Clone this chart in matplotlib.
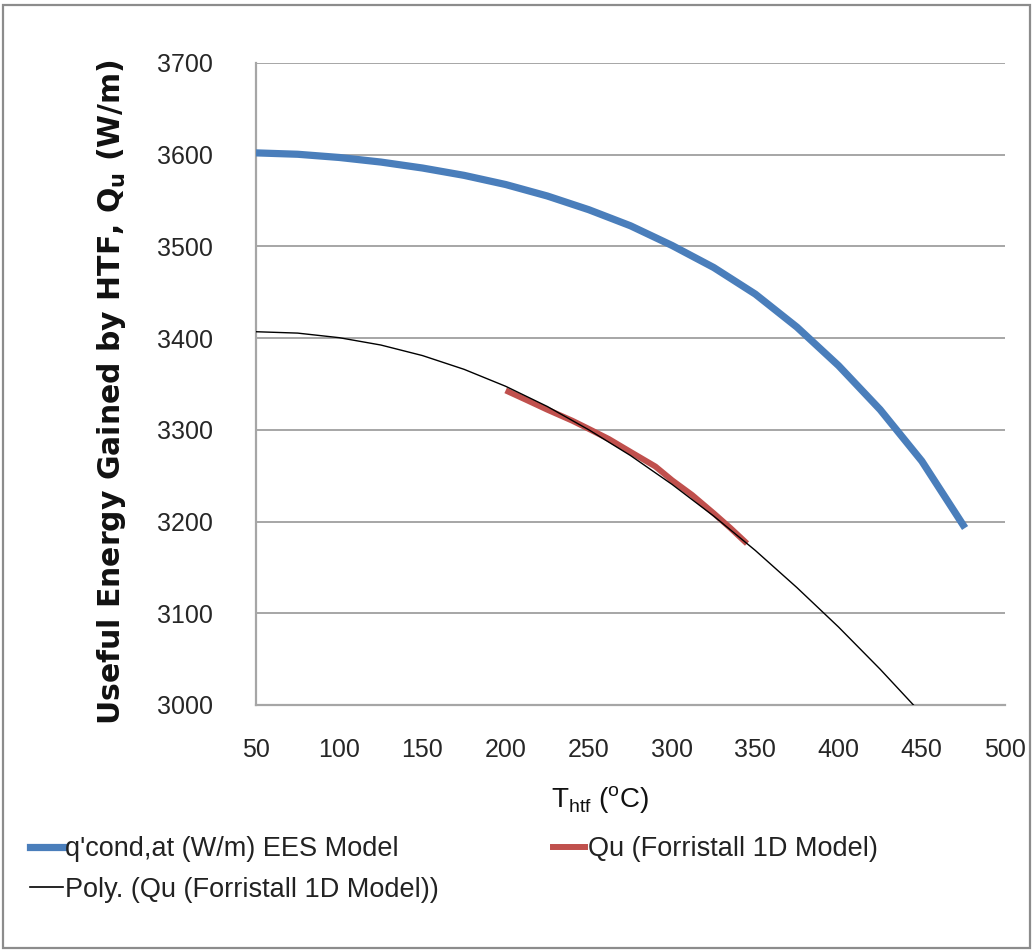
import matplotlib
matplotlib.use("Agg")
import matplotlib.pyplot as plt
from matplotlib.patches import Rectangle
from matplotlib.lines import Line2D

# ---- data ----
blue_x = [50, 75, 100, 125, 150, 175, 200, 225, 250, 275, 300, 325, 350, 375, 400, 425, 450, 476]
blue_y = [3602, 3600.5, 3597, 3592, 3585.5, 3577.5, 3567.5, 3555, 3540, 3522.5, 3501, 3477,
          3448, 3412, 3370, 3322, 3266, 3193]

red_x = [200, 212, 225, 240, 250, 262, 275, 290, 300, 312, 325, 335, 345]
red_y = [3343, 3333, 3322, 3310, 3301, 3290, 3276, 3260, 3245, 3229, 3209, 3193, 3176]

poly_x = [50, 75, 100, 125, 150, 175, 200, 225, 250, 275, 300, 325, 350, 375, 400, 425, 445]
poly_y = [3407, 3405.5, 3400.5, 3392.5, 3381, 3366, 3347.5, 3325.5, 3300, 3272, 3240.5, 3206,
          3168.5, 3128, 3085, 3039, 3000]

x_ticks = [50, 100, 150, 200, 250, 300, 350, 400, 450, 500]
y_ticks = [3000, 3100, 3200, 3300, 3400, 3500, 3600, 3700]

label_blue = "q'cond,at (W/m) EES Model"
label_red = "Qu (Forristall 1D Model)"
label_poly = "Poly. (Qu (Forristall 1D Model))"

plt.rcParams["font.family"] = ["Liberation Sans", "DejaVu Sans"]
plt.rcParams["mathtext.fontset"] = "custom"
plt.rcParams["mathtext.rm"] = "Liberation Sans"

W, H = 1034, 951
fig = plt.figure(figsize=(W / 100, H / 100), dpi=100)
fig.patch.set_facecolor("white")

# outer chart border
fig.patches.append(Rectangle((3 / W, 3 / H), 1 - 7 / W, 1 - 8 / H, transform=fig.transFigure,
                             fill=False, edgecolor="#8c8c8c", linewidth=1.6))

L, R, T, B = 256, 1005, 63, 705
ax = fig.add_axes([L / W, 1 - B / H, (R - L) / W, (B - T) / H])

grid_c = "#a6a6a6"
for yv in y_ticks:
    ax.axhline(yv, color=grid_c, lw=1.4, zorder=1)

ax.plot(blue_x, blue_y, color="#4a7ebb", lw=5.2, solid_capstyle="butt",
        solid_joinstyle="round", zorder=3)
ax.plot(red_x, red_y, color="#c0504d", lw=4.3, solid_capstyle="butt",
        solid_joinstyle="round", zorder=4)
ax.plot(poly_x, poly_y, color="black", lw=1.0, zorder=5)

ax.set_xlim(50, 500)
ax.set_ylim(3000, 3700)
ax.set_xticks(x_ticks)
ax.set_yticks(y_ticks)
ax.tick_params(length=0, labelsize=18, colors="#262626")
ax.tick_params(axis="x", pad=24)
ax.tick_params(axis="y", pad=31)
for s in ["top", "right"]:
    ax.spines[s].set_visible(False)
for s in ["left", "bottom"]:
    ax.spines[s].set_color(grid_c)
    ax.spines[s].set_linewidth(1.6)

fig.text(112 / W, 1 - 392 / H, r"Useful Energy Gained by HTF, Q$_\mathregular{u}$ (W/m)",
         rotation=90, ha="center", va="center", fontsize=21.5, fontweight="bold",
         family=["DejaVu Sans"], color="#111111")

fig.text(600 / W, 1 - 800 / H, r"T$_\mathregular{htf}$ ($^\mathregular{o}$C)",
         ha="center", va="center", fontsize=20, color="#111111")

handles = [Line2D([], [], color="#4a7ebb", lw=5.2),
           Line2D([], [], color="black", lw=1.2),
           Line2D([], [], color="#c0504d", lw=4.3)]
labels = [label_blue, label_poly, label_red]
fig.legend(handles, labels, loc="upper left", bbox_to_anchor=(30 / W, 1 - 836 / H),
           ncol=2, frameon=False, fontsize=19.5, handlelength=1.2, handletextpad=0.1,
           columnspacing=4.2, labelspacing=0.55, borderaxespad=0, borderpad=0,
           labelcolor="#222222")

fig.savefig("out.png", dpi=100, facecolor="white")
